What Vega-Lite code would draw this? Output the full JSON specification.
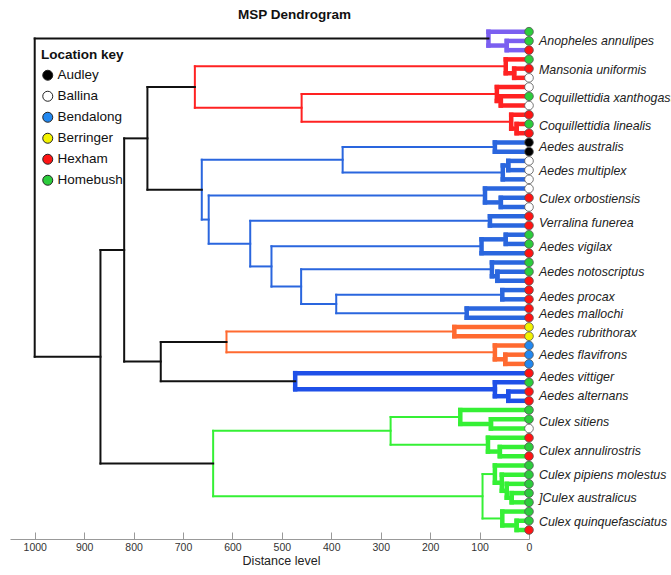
{
  "$schema": "https://vega.github.io/schema/vega-lite/v6.json",
  "width": 519,
  "height": 513,
  "autosize": {"type": "none"},
  "padding": {"left": 10, "top": 26, "right": 142, "bottom": 36},
  "background": "white",
  "title": {"text": "MSP Dendrogram", "font": "Liberation Sans, Arial", "fontSize": 13.5, "fontWeight": "bold", "color": "#111", "anchor": "middle", "dx": 25, "offset": 4},
  "config": {"view": {"stroke": null}},
  "datasets": {
    "links": [
      {"x1":0,"x2":82,"y1":1,"y2":1,"clade":"Anopheles","level":"thick"},
      {"x1":0,"x2":45,"y1":2,"y2":2,"clade":"Anopheles","level":"thick"},
      {"x1":0,"x2":45,"y1":3,"y2":3,"clade":"Anopheles","level":"thick"},
      {"x1":45,"x2":82,"y1":2.5,"y2":2.5,"clade":"Anopheles","level":"thick"},
      {"x1":45,"x2":45,"y1":2,"y2":3,"clade":"Anopheles","level":"thick"},
      {"x1":82,"x2":82,"y1":1,"y2":2.5,"clade":"Anopheles","level":"thick"},
      {"x1":82,"x2":1000,"y1":1.75,"y2":1.75,"clade":"top","level":"thin"},

      {"x1":0,"x2":47,"y1":4,"y2":4,"clade":"Mansonia","level":"thick"},
      {"x1":0,"x2":30,"y1":5,"y2":5,"clade":"Mansonia","level":"thick"},
      {"x1":0,"x2":30,"y1":6,"y2":6,"clade":"Mansonia","level":"thick"},
      {"x1":30,"x2":47,"y1":5.5,"y2":5.5,"clade":"Mansonia","level":"thick"},
      {"x1":30,"x2":30,"y1":5,"y2":6,"clade":"Mansonia","level":"thick"},
      {"x1":47,"x2":47,"y1":4,"y2":5.5,"clade":"Mansonia","level":"thick"},
      {"x1":47,"x2":676,"y1":4.75,"y2":4.75,"clade":"Mansonia","level":"thin"},

      {"x1":0,"x2":65,"y1":7,"y2":7,"clade":"Mansonia","level":"thick"},
      {"x1":0,"x2":57,"y1":8,"y2":8,"clade":"Mansonia","level":"thick"},
      {"x1":0,"x2":57,"y1":9,"y2":9,"clade":"Mansonia","level":"thick"},
      {"x1":57,"x2":65,"y1":8.5,"y2":8.5,"clade":"Mansonia","level":"thick"},
      {"x1":57,"x2":57,"y1":8,"y2":9,"clade":"Mansonia","level":"thick"},
      {"x1":65,"x2":65,"y1":7,"y2":8.5,"clade":"Mansonia","level":"thick"},
      {"x1":65,"x2":460,"y1":7.75,"y2":7.75,"clade":"Mansonia","level":"thin"},

      {"x1":0,"x2":36,"y1":10,"y2":10,"clade":"Mansonia","level":"thick"},
      {"x1":0,"x2":25,"y1":11,"y2":11,"clade":"Mansonia","level":"thick"},
      {"x1":0,"x2":25,"y1":12,"y2":12,"clade":"Mansonia","level":"thick"},
      {"x1":25,"x2":36,"y1":11.5,"y2":11.5,"clade":"Mansonia","level":"thick"},
      {"x1":25,"x2":25,"y1":11,"y2":12,"clade":"Mansonia","level":"thick"},
      {"x1":36,"x2":36,"y1":10,"y2":11.5,"clade":"Mansonia","level":"thick"},
      {"x1":36,"x2":460,"y1":10.75,"y2":10.75,"clade":"Mansonia","level":"thin"},
      {"x1":460,"x2":460,"y1":7.75,"y2":10.75,"clade":"Mansonia","level":"thin"},
      {"x1":460,"x2":676,"y1":9.25,"y2":9.25,"clade":"Mansonia","level":"thin"},
      {"x1":676,"x2":676,"y1":4.75,"y2":9.25,"clade":"Mansonia","level":"thin"},
      {"x1":676,"x2":772,"y1":7,"y2":7,"clade":"top","level":"thin"},

      {"x1":0,"x2":69,"y1":13,"y2":13,"clade":"Aedes","level":"thick"},
      {"x1":0,"x2":69,"y1":14,"y2":14,"clade":"Aedes","level":"thick"},
      {"x1":69,"x2":69,"y1":13,"y2":14,"clade":"Aedes","level":"thick"},
      {"x1":69,"x2":377,"y1":13.5,"y2":13.5,"clade":"Aedes","level":"thin"},
      {"x1":0,"x2":42,"y1":15,"y2":15,"clade":"Aedes","level":"thick"},
      {"x1":0,"x2":42,"y1":16,"y2":16,"clade":"Aedes","level":"thick"},
      {"x1":42,"x2":42,"y1":15,"y2":16,"clade":"Aedes","level":"thick"},
      {"x1":42,"x2":53,"y1":15.5,"y2":15.5,"clade":"Aedes","level":"thick"},
      {"x1":0,"x2":53,"y1":17,"y2":17,"clade":"Aedes","level":"thick"},
      {"x1":53,"x2":53,"y1":15.5,"y2":17,"clade":"Aedes","level":"thick"},
      {"x1":53,"x2":377,"y1":16.25,"y2":16.25,"clade":"Aedes","level":"thin"},
      {"x1":377,"x2":377,"y1":13.5,"y2":16.25,"clade":"Aedes","level":"thin"},
      {"x1":377,"x2":662,"y1":14.875,"y2":14.875,"clade":"Aedes","level":"thin"},

      {"x1":0,"x2":89,"y1":18,"y2":18,"clade":"Aedes","level":"thick"},
      {"x1":0,"x2":57,"y1":19,"y2":19,"clade":"Aedes","level":"thick"},
      {"x1":0,"x2":57,"y1":20,"y2":20,"clade":"Aedes","level":"thick"},
      {"x1":57,"x2":57,"y1":19,"y2":20,"clade":"Aedes","level":"thick"},
      {"x1":57,"x2":89,"y1":19.5,"y2":19.5,"clade":"Aedes","level":"thick"},
      {"x1":89,"x2":89,"y1":18,"y2":19.5,"clade":"Aedes","level":"thick"},
      {"x1":89,"x2":648,"y1":18.75,"y2":18.75,"clade":"Aedes","level":"thin"},

      {"x1":0,"x2":79,"y1":21,"y2":21,"clade":"Aedes","level":"thick"},
      {"x1":0,"x2":79,"y1":22,"y2":22,"clade":"Aedes","level":"thick"},
      {"x1":79,"x2":79,"y1":21,"y2":22,"clade":"Aedes","level":"thick"},
      {"x1":79,"x2":564,"y1":21.5,"y2":21.5,"clade":"Aedes","level":"thin"},

      {"x1":0,"x2":47,"y1":23,"y2":23,"clade":"Aedes","level":"thick"},
      {"x1":0,"x2":47,"y1":24,"y2":24,"clade":"Aedes","level":"thick"},
      {"x1":47,"x2":47,"y1":23,"y2":24,"clade":"Aedes","level":"thick"},
      {"x1":47,"x2":96,"y1":23.5,"y2":23.5,"clade":"Aedes","level":"thick"},
      {"x1":0,"x2":96,"y1":25,"y2":25,"clade":"Aedes","level":"thick"},
      {"x1":96,"x2":96,"y1":23.5,"y2":25,"clade":"Aedes","level":"thick"},
      {"x1":96,"x2":521,"y1":24.25,"y2":24.25,"clade":"Aedes","level":"thin"},

      {"x1":0,"x2":75,"y1":26,"y2":26,"clade":"Aedes","level":"thick"},
      {"x1":0,"x2":64,"y1":27,"y2":27,"clade":"Aedes","level":"thick"},
      {"x1":0,"x2":64,"y1":28,"y2":28,"clade":"Aedes","level":"thick"},
      {"x1":64,"x2":64,"y1":27,"y2":28,"clade":"Aedes","level":"thick"},
      {"x1":64,"x2":75,"y1":27.5,"y2":27.5,"clade":"Aedes","level":"thick"},
      {"x1":75,"x2":75,"y1":26,"y2":27.5,"clade":"Aedes","level":"thick"},
      {"x1":75,"x2":461,"y1":26.75,"y2":26.75,"clade":"Aedes","level":"thin"},

      {"x1":0,"x2":54,"y1":29,"y2":29,"clade":"Aedes","level":"thick"},
      {"x1":0,"x2":54,"y1":30,"y2":30,"clade":"Aedes","level":"thick"},
      {"x1":54,"x2":54,"y1":29,"y2":30,"clade":"Aedes","level":"thick"},
      {"x1":54,"x2":390,"y1":29.5,"y2":29.5,"clade":"Aedes","level":"thin"},
      {"x1":0,"x2":126,"y1":31,"y2":31,"clade":"Aedes","level":"thick"},
      {"x1":0,"x2":126,"y1":32,"y2":32,"clade":"Aedes","level":"thick"},
      {"x1":126,"x2":126,"y1":31,"y2":32,"clade":"Aedes","level":"thick"},
      {"x1":126,"x2":390,"y1":31.5,"y2":31.5,"clade":"Aedes","level":"thin"},
      {"x1":390,"x2":390,"y1":29.5,"y2":31.5,"clade":"Aedes","level":"thin"},
      {"x1":390,"x2":461,"y1":30.5,"y2":30.5,"clade":"Aedes","level":"thin"},
      {"x1":461,"x2":461,"y1":26.75,"y2":30.5,"clade":"Aedes","level":"thin"},
      {"x1":461,"x2":521,"y1":28.625,"y2":28.625,"clade":"Aedes","level":"thin"},
      {"x1":521,"x2":521,"y1":24.25,"y2":28.625,"clade":"Aedes","level":"thin"},
      {"x1":521,"x2":564,"y1":26.4375,"y2":26.4375,"clade":"Aedes","level":"thin"},
      {"x1":564,"x2":564,"y1":21.5,"y2":26.4375,"clade":"Aedes","level":"thin"},
      {"x1":564,"x2":648,"y1":23.969,"y2":23.969,"clade":"Aedes","level":"thin"},
      {"x1":648,"x2":648,"y1":18.75,"y2":23.969,"clade":"Aedes","level":"thin"},
      {"x1":648,"x2":662,"y1":21.359,"y2":21.359,"clade":"Aedes","level":"thin"},
      {"x1":662,"x2":662,"y1":14.875,"y2":21.359,"clade":"Aedes","level":"thin"},
      {"x1":662,"x2":772,"y1":18.117,"y2":18.117,"clade":"top","level":"thin"},
      {"x1":772,"x2":772,"y1":7,"y2":18.117,"clade":"top","level":"thin"},
      {"x1":772,"x2":819,"y1":12.559,"y2":12.559,"clade":"top","level":"thin"},

      {"x1":0,"x2":151,"y1":33,"y2":33,"clade":"Rubrithorax","level":"thick"},
      {"x1":0,"x2":151,"y1":34,"y2":34,"clade":"Rubrithorax","level":"thick"},
      {"x1":151,"x2":151,"y1":33,"y2":34,"clade":"Rubrithorax","level":"thick"},
      {"x1":151,"x2":612,"y1":33.5,"y2":33.5,"clade":"Rubrithorax","level":"thin"},
      {"x1":0,"x2":69,"y1":35,"y2":35,"clade":"Rubrithorax","level":"thick"},
      {"x1":0,"x2":48,"y1":36,"y2":36,"clade":"Rubrithorax","level":"thick"},
      {"x1":0,"x2":48,"y1":37,"y2":37,"clade":"Rubrithorax","level":"thick"},
      {"x1":48,"x2":48,"y1":36,"y2":37,"clade":"Rubrithorax","level":"thick"},
      {"x1":48,"x2":69,"y1":36.5,"y2":36.5,"clade":"Rubrithorax","level":"thick"},
      {"x1":69,"x2":69,"y1":35,"y2":36.5,"clade":"Rubrithorax","level":"thick"},
      {"x1":69,"x2":612,"y1":35.75,"y2":35.75,"clade":"Rubrithorax","level":"thin"},
      {"x1":612,"x2":612,"y1":33.5,"y2":35.75,"clade":"Rubrithorax","level":"thin"},
      {"x1":612,"x2":745,"y1":34.625,"y2":34.625,"clade":"top","level":"thin"},

      {"x1":0,"x2":473,"y1":38,"y2":38,"clade":"Vittiger","level":"thick"},
      {"x1":0,"x2":69,"y1":39,"y2":39,"clade":"Vittiger","level":"thick"},
      {"x1":0,"x2":42,"y1":40,"y2":40,"clade":"Vittiger","level":"thick"},
      {"x1":0,"x2":42,"y1":41,"y2":41,"clade":"Vittiger","level":"thick"},
      {"x1":42,"x2":42,"y1":40,"y2":41,"clade":"Vittiger","level":"thick"},
      {"x1":42,"x2":69,"y1":40.5,"y2":40.5,"clade":"Vittiger","level":"thick"},
      {"x1":69,"x2":69,"y1":39,"y2":40.5,"clade":"Vittiger","level":"thick"},
      {"x1":69,"x2":473,"y1":39.75,"y2":39.75,"clade":"Vittiger","level":"thick"},
      {"x1":473,"x2":473,"y1":38,"y2":39.75,"clade":"Vittiger","level":"thick"},
      {"x1":473,"x2":745,"y1":38.875,"y2":38.875,"clade":"top","level":"thin"},
      {"x1":745,"x2":745,"y1":34.625,"y2":38.875,"clade":"top","level":"thin"},
      {"x1":745,"x2":819,"y1":36.75,"y2":36.75,"clade":"top","level":"thin"},
      {"x1":819,"x2":819,"y1":12.559,"y2":36.75,"clade":"top","level":"thin"},
      {"x1":819,"x2":867,"y1":24.654,"y2":24.654,"clade":"top","level":"thin"},

      {"x1":0,"x2":139,"y1":42,"y2":42,"clade":"Culex","level":"thick"},
      {"x1":0,"x2":77,"y1":43,"y2":43,"clade":"Culex","level":"thick"},
      {"x1":0,"x2":77,"y1":44,"y2":44,"clade":"Culex","level":"thick"},
      {"x1":77,"x2":77,"y1":43,"y2":44,"clade":"Culex","level":"thick"},
      {"x1":77,"x2":139,"y1":43.5,"y2":43.5,"clade":"Culex","level":"thick"},
      {"x1":139,"x2":139,"y1":42,"y2":43.5,"clade":"Culex","level":"thick"},
      {"x1":139,"x2":280,"y1":42.75,"y2":42.75,"clade":"Culex","level":"thin"},
      {"x1":0,"x2":83,"y1":45,"y2":45,"clade":"Culex","level":"thick"},
      {"x1":0,"x2":59,"y1":46,"y2":46,"clade":"Culex","level":"thick"},
      {"x1":0,"x2":59,"y1":47,"y2":47,"clade":"Culex","level":"thick"},
      {"x1":59,"x2":59,"y1":46,"y2":47,"clade":"Culex","level":"thick"},
      {"x1":59,"x2":83,"y1":46.5,"y2":46.5,"clade":"Culex","level":"thick"},
      {"x1":83,"x2":83,"y1":45,"y2":46.5,"clade":"Culex","level":"thick"},
      {"x1":83,"x2":280,"y1":45.75,"y2":45.75,"clade":"Culex","level":"thin"},
      {"x1":280,"x2":280,"y1":42.75,"y2":45.75,"clade":"Culex","level":"thin"},
      {"x1":280,"x2":639,"y1":44.25,"y2":44.25,"clade":"Culex","level":"thin"},

      {"x1":0,"x2":69,"y1":48,"y2":48,"clade":"Culex","level":"thick"},
      {"x1":0,"x2":55,"y1":49,"y2":49,"clade":"Culex","level":"thick"},
      {"x1":0,"x2":45,"y1":50,"y2":50,"clade":"Culex","level":"thick"},
      {"x1":0,"x2":35,"y1":51,"y2":51,"clade":"Culex","level":"thick"},
      {"x1":0,"x2":35,"y1":52,"y2":52,"clade":"Culex","level":"thick"},
      {"x1":35,"x2":35,"y1":51,"y2":52,"clade":"Culex","level":"thick"},
      {"x1":35,"x2":45,"y1":51.5,"y2":51.5,"clade":"Culex","level":"thick"},
      {"x1":45,"x2":45,"y1":50,"y2":51.5,"clade":"Culex","level":"thick"},
      {"x1":45,"x2":55,"y1":50.75,"y2":50.75,"clade":"Culex","level":"thick"},
      {"x1":55,"x2":55,"y1":49,"y2":50.75,"clade":"Culex","level":"thick"},
      {"x1":55,"x2":69,"y1":49.875,"y2":49.875,"clade":"Culex","level":"thick"},
      {"x1":69,"x2":69,"y1":48,"y2":49.875,"clade":"Culex","level":"thick"},
      {"x1":69,"x2":94,"y1":48.9375,"y2":48.9375,"clade":"Culex","level":"thin"},
      {"x1":0,"x2":54,"y1":53,"y2":53,"clade":"Culex","level":"thick"},
      {"x1":0,"x2":25,"y1":54,"y2":54,"clade":"Culex","level":"thick"},
      {"x1":0,"x2":25,"y1":55,"y2":55,"clade":"Culex","level":"thick"},
      {"x1":25,"x2":25,"y1":54,"y2":55,"clade":"Culex","level":"thick"},
      {"x1":25,"x2":54,"y1":54.5,"y2":54.5,"clade":"Culex","level":"thick"},
      {"x1":54,"x2":54,"y1":53,"y2":54.5,"clade":"Culex","level":"thick"},
      {"x1":54,"x2":94,"y1":53.75,"y2":53.75,"clade":"Culex","level":"thin"},
      {"x1":94,"x2":94,"y1":48.9375,"y2":53.75,"clade":"Culex","level":"thin"},
      {"x1":94,"x2":639,"y1":51.34,"y2":51.34,"clade":"Culex","level":"thin"},
      {"x1":639,"x2":639,"y1":44.25,"y2":51.34,"clade":"Culex","level":"thin"},
      {"x1":639,"x2":867,"y1":47.8,"y2":47.8,"clade":"top","level":"thin"},
      {"x1":867,"x2":867,"y1":24.654,"y2":47.8,"clade":"top","level":"thin"},
      {"x1":867,"x2":1000,"y1":36.227,"y2":36.227,"clade":"top","level":"thin"},
      {"x1":1000,"x2":1000,"y1":1.75,"y2":36.227,"clade":"top","level":"thin"}
    ],
    "leaves": [
      {"leaf":1,"site":"Homebush"},{"leaf":2,"site":"Homebush"},{"leaf":3,"site":"Hexham"},
      {"leaf":4,"site":"Homebush"},{"leaf":5,"site":"Hexham"},{"leaf":6,"site":"Ballina"},
      {"leaf":7,"site":"Ballina"},{"leaf":8,"site":"Homebush"},{"leaf":9,"site":"Ballina"},
      {"leaf":10,"site":"Hexham"},{"leaf":11,"site":"Homebush"},{"leaf":12,"site":"Hexham"},
      {"leaf":13,"site":"Audley"},{"leaf":14,"site":"Audley"},
      {"leaf":15,"site":"Ballina"},{"leaf":16,"site":"Ballina"},{"leaf":17,"site":"Ballina"},
      {"leaf":18,"site":"Ballina"},{"leaf":19,"site":"Hexham"},{"leaf":20,"site":"Ballina"},
      {"leaf":21,"site":"Hexham"},{"leaf":22,"site":"Hexham"},
      {"leaf":23,"site":"Homebush"},{"leaf":24,"site":"Homebush"},{"leaf":25,"site":"Hexham"},
      {"leaf":26,"site":"Homebush"},{"leaf":27,"site":"Homebush"},{"leaf":28,"site":"Hexham"},
      {"leaf":29,"site":"Hexham"},{"leaf":30,"site":"Hexham"},
      {"leaf":31,"site":"Hexham"},{"leaf":32,"site":"Hexham"},
      {"leaf":33,"site":"Berringer"},{"leaf":34,"site":"Berringer"},
      {"leaf":35,"site":"Bendalong"},{"leaf":36,"site":"Bendalong"},{"leaf":37,"site":"Bendalong"},
      {"leaf":38,"site":"Hexham"},{"leaf":39,"site":"Homebush"},{"leaf":40,"site":"Hexham"},{"leaf":41,"site":"Hexham"},
      {"leaf":42,"site":"Homebush"},{"leaf":43,"site":"Homebush"},{"leaf":44,"site":"Ballina"},
      {"leaf":45,"site":"Hexham"},{"leaf":46,"site":"Homebush"},{"leaf":47,"site":"Hexham"},
      {"leaf":48,"site":"Homebush"},{"leaf":49,"site":"Homebush"},{"leaf":50,"site":"Homebush"},
      {"leaf":51,"site":"Homebush"},{"leaf":52,"site":"Homebush"},{"leaf":53,"site":"Homebush"},
      {"leaf":54,"site":"Homebush"},{"leaf":55,"site":"Hexham"}
    ],
    "labels": [
      {"species":"Anopheles annulipes","pos":2.0},
      {"species":"Mansonia uniformis","pos":5.1},
      {"species":"Coquillettidia xanthogaster","pos":8.2},
      {"species":"Coquillettidia linealis","pos":11.2},
      {"species":"Aedes australis","pos":13.5},
      {"species":"Aedes multiplex","pos":16.1},
      {"species":"Culex orbostiensis","pos":19.1},
      {"species":"Verralina funerea","pos":21.7},
      {"species":"Aedes vigilax","pos":24.3},
      {"species":"Aedes notoscriptus","pos":27.0},
      {"species":"Aedes procax","pos":29.7},
      {"species":"Aedes mallochi","pos":31.6},
      {"species":"Aedes rubrithorax","pos":33.7},
      {"species":"Aedes flavifrons","pos":36.0},
      {"species":"Aedes vittiger","pos":38.4},
      {"species":"Aedes alternans","pos":40.5},
      {"species":"Culex sitiens","pos":43.3},
      {"species":"Culex annulirostris","pos":46.4},
      {"species":"Culex pipiens molestus","pos":49.0},
      {"species":"]Culex australicus","pos":51.5},
      {"species":"Culex quinquefasciatus","pos":54.1}
    ]
  },
  "layer": [
    {
      "data": {"name": "links"},
      "mark": {"type": "rule", "strokeCap": "square"},
      "encoding": {
        "x": {"field": "x1", "type": "quantitative",
              "scale": {"domain": [0, 1050], "reverse": true, "nice": false, "zero": false},
              "axis": {"title": "Distance level", "values": [0,100,200,300,400,500,600,700,800,900,1000], "format": "d",
                       "grid": false, "tickSize": -7, "labelPadding": 10, "domainColor": "#999", "tickColor": "#999",
                       "domainWidth": 1.2, "tickWidth": 1,
                       "labelFont": "Liberation Sans, Arial", "labelFontSize": 10.5, "labelColor": "#333",
                       "labelFlush": false,
                       "titleFont": "Liberation Sans, Arial", "titleFontSize": 12.5, "titleFontWeight": "normal",
                       "titleColor": "#222", "titlePadding": 2, "titleX": 271}},
        "x2": {"field": "x2"},
        "y": {"field": "y1", "type": "quantitative",
              "scale": {"domain": [0.382, 55.975], "reverse": true, "nice": false, "zero": false}, "axis": null},
        "y2": {"field": "y2"},
        "stroke": {"field": "clade", "type": "nominal",
                   "scale": {"domain": ["top","Anopheles","Mansonia","Aedes","Rubrithorax","Vittiger","Culex"],
                             "range": ["#111111","#7b5ff0","#ff2222","#2a66de","#ff6a30","#1f50e8","#35f035"]},
                   "legend": null},
        "strokeWidth": {"field": "level", "type": "ordinal",
                        "scale": {"domain": ["thin","thick"], "range": [2, 4.5]}, "legend": null}
      }
    },
    {
      "data": {"name": "leaves"},
      "mark": {"type": "circle", "size": 75, "opacity": 1, "stroke": "#555", "strokeWidth": 0.8},
      "encoding": {
        "x": {"datum": 0, "type": "quantitative"},
        "y": {"field": "leaf", "type": "quantitative"},
        "fill": {"field": "site", "type": "nominal",
                 "scale": {"domain": ["Audley","Ballina","Bendalong","Berringer","Hexham","Homebush"],
                           "range": ["#000000","#ffffff","#2288f0","#f2f200","#ff1414","#2ccc3c"]},
                 "legend": {"title": "Location key", "orient": "none", "legendX": 31, "legendY": 22,
                            "padding": 0, "titlePadding": 7, "rowPadding": 6, "labelOffset": 3,
                            "symbolType": "circle", "symbolSize": 100, "symbolStrokeColor": "#222",
                            "symbolStrokeWidth": 1, "symbolOpacity": 1,
                            "titleFont": "Liberation Sans, Arial", "titleFontSize": 13.5,
                            "titleFontWeight": "bold", "titleColor": "#111",
                            "labelFont": "Liberation Sans, Arial", "labelFontSize": 13.5,
                            "labelColor": "#111"}}
      }
    },
    {
      "data": {"name": "labels"},
      "mark": {"type": "text", "align": "left", "baseline": "middle", "dx": 10,
               "font": "Liberation Sans, Arial", "fontSize": 12.4,
               "fontStyle": "italic", "color": "#222"},
      "encoding": {
        "x": {"datum": 0, "type": "quantitative"},
        "y": {"field": "pos", "type": "quantitative"},
        "text": {"field": "species"}
      }
    }
  ]
}
